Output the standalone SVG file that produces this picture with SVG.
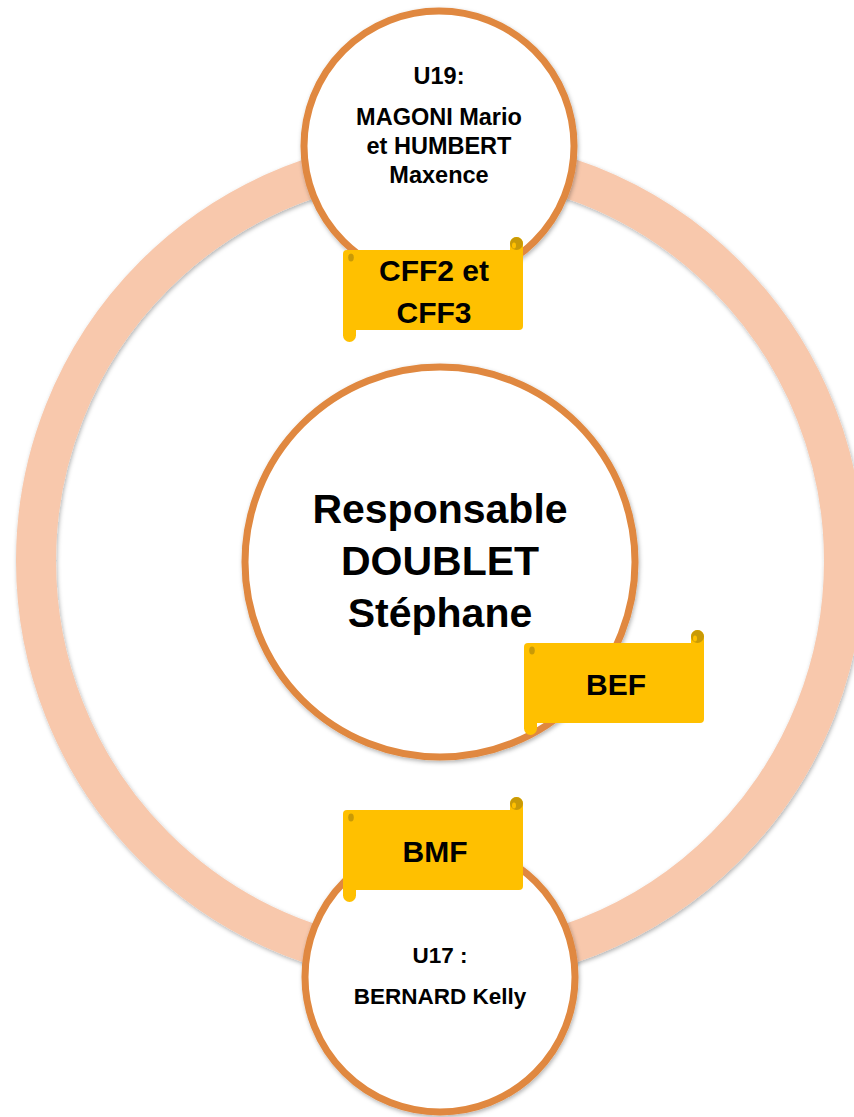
<svg xmlns="http://www.w3.org/2000/svg" xmlns:xlink="http://www.w3.org/1999/xlink" width="854" height="1117" viewBox="0 0 854 1117">
<style>
.node{fill:#ffffff;stroke:#E0883F;stroke-width:7}
.t{font-family:"Liberation Sans",Arial,sans-serif;font-weight:bold;fill:#000;text-anchor:middle}
.big{font-size:41px}
.sm{font-size:23.5px}
.sm2{font-size:22.5px}
.sc{font-size:30px}
</style>
<defs>
<filter id="sh" x="-10%" y="-10%" width="120%" height="120%">
<feDropShadow dx="1" dy="2" stdDeviation="2" flood-color="#000" flood-opacity="0.3"/>
</filter>
<g id="scroll">
<rect x="0" y="0" width="180" height="80" rx="4" fill="#FFC000"/>
<rect x="167" y="-13" width="13" height="24" rx="6.5" fill="#FFC000"/>
<rect x="0" y="68" width="13" height="24" rx="6.5" fill="#FFC000"/>
<circle cx="173.5" cy="-6.5" r="6.5" fill="#C99A06"/>
<ellipse cx="171" cy="-4.5" rx="2" ry="3" fill="#FFC000"/>
<ellipse cx="8" cy="7.5" rx="2.8" ry="4" fill="#C99A06"/>
</g>
</defs>
<g id="connectors">
<circle cx="440" cy="561" r="404" fill="none" stroke="#F8C8AC" stroke-width="40" filter="url(#sh)"/>
</g>
<g id="node-u19">
<circle class="node" cx="439" cy="146" r="135" filter="url(#sh)"/>
<text class="t sm" x="439" y="84">U19:</text>
<text class="t sm" x="439" y="125">MAGONI Mario</text>
<text class="t sm" x="439" y="154">et HUMBERT</text>
<text class="t sm" x="439" y="183">Maxence</text>
</g>
<g id="node-u17">
<circle class="node" cx="440" cy="977" r="135" filter="url(#sh)"/>
<text class="t sm2" x="440" y="963">U17 :</text>
<text class="t sm2" x="440" y="1004">BERNARD Kelly</text>
</g>
<g id="node-responsable">
<circle class="node" cx="440" cy="562" r="195" filter="url(#sh)"/>
<text class="t big" x="440" y="523">Responsable</text>
<text class="t big" x="440" y="575">DOUBLET</text>
<text class="t big" x="440" y="627">Stéphane</text>
</g>
<g id="scroll-cff">
<use xlink:href="#scroll" href="#scroll" transform="translate(343,250)"/>
<text class="t sc" x="434" y="281">CFF2 et</text>
<text class="t sc" x="434" y="323">CFF3</text>
</g>
<g id="scroll-bef">
<use xlink:href="#scroll" href="#scroll" transform="translate(524,643)"/>
<text class="t sc" x="616" y="695">BEF</text>
</g>
<g id="scroll-bmf">
<use xlink:href="#scroll" href="#scroll" transform="translate(343,810)"/>
<text class="t sc" x="435" y="862">BMF</text>
</g>
</svg>
